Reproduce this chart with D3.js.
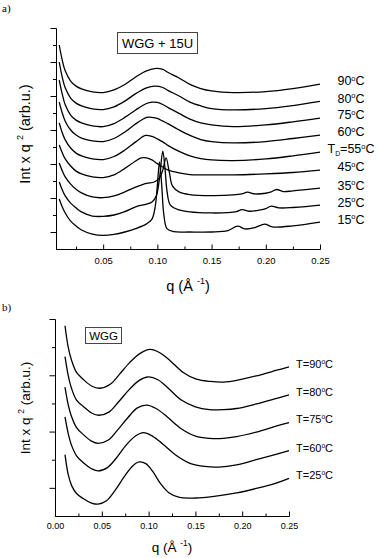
<!DOCTYPE html>
<html>
<head>
<meta charset="utf-8">
<script src="https://cdn.jsdelivr.net/npm/d3@7"></script>
<style>
  body { margin: 0; background: #fff; }
  svg { display: block; }
  text { font-family: "Liberation Sans", Arial, sans-serif; fill: #000; }
</style>
</head>
<body>
<script>
'use strict'

// ---- panel a) WGG + 15U : [q, Int*q^2 (arb.u., curves stacked)] ----
const tempsA = [90, 80, 75, 60, 55, 45, 35, 25, 15]
const a90 = [[0.0095, 5.50], [0.012, 5.09], [0.015, 4.74], [0.02, 4.44], [0.025, 4.29], [0.03, 4.21], [0.04, 4.12], [0.05, 4.10], [0.06, 4.18], [0.07, 4.34], [0.08, 4.56], [0.09, 4.74], [0.099, 4.81], [0.105, 4.78], [0.11, 4.69], [0.12, 4.53], [0.13, 4.34], [0.14, 4.22], [0.15, 4.15], [0.17, 4.10], [0.2, 4.13], [0.225, 4.22], [0.25, 4.35]]
const a80 = [[0.0095, 5.00], [0.012, 4.59], [0.015, 4.24], [0.02, 3.94], [0.025, 3.79], [0.03, 3.71], [0.04, 3.62], [0.05, 3.60], [0.06, 3.68], [0.07, 3.85], [0.08, 4.07], [0.09, 4.24], [0.0975, 4.29], [0.105, 4.25], [0.11, 4.16], [0.12, 4.00], [0.13, 3.82], [0.14, 3.71], [0.15, 3.63], [0.17, 3.59], [0.2, 3.63], [0.225, 3.72], [0.25, 3.84]]
const a75 = [[0.0095, 4.47], [0.012, 4.09], [0.015, 3.74], [0.02, 3.44], [0.025, 3.29], [0.03, 3.21], [0.04, 3.12], [0.05, 3.10], [0.06, 3.19], [0.07, 3.37], [0.08, 3.59], [0.09, 3.78], [0.095, 3.82], [0.1, 3.81], [0.105, 3.75], [0.11, 3.66], [0.12, 3.49], [0.13, 3.32], [0.14, 3.21], [0.15, 3.15], [0.17, 3.10], [0.2, 3.15], [0.225, 3.24], [0.25, 3.35]]
const a60 = [[0.0095, 3.82], [0.012, 3.53], [0.015, 3.26], [0.02, 3.00], [0.025, 2.85], [0.03, 2.76], [0.04, 2.68], [0.05, 2.66], [0.06, 2.75], [0.07, 2.94], [0.08, 3.18], [0.09, 3.37], [0.093, 3.38], [0.1, 3.34], [0.105, 3.26], [0.11, 3.18], [0.12, 3.00], [0.13, 2.84], [0.14, 2.72], [0.15, 2.66], [0.17, 2.62], [0.2, 2.66], [0.225, 2.75], [0.25, 2.85]]
const a55 = [[0.0095, 3.21], [0.012, 2.94], [0.015, 2.71], [0.02, 2.47], [0.025, 2.32], [0.03, 2.24], [0.04, 2.15], [0.05, 2.13], [0.06, 2.22], [0.07, 2.41], [0.08, 2.65], [0.089, 2.84], [0.095, 2.81], [0.1, 2.74], [0.105, 2.65], [0.11, 2.54], [0.12, 2.37], [0.13, 2.24], [0.14, 2.16], [0.15, 2.12], [0.17, 2.10], [0.2, 2.15], [0.225, 2.24], [0.25, 2.35]]
const a45 = [[0.0095, 2.56], [0.012, 2.35], [0.015, 2.15], [0.02, 1.94], [0.025, 1.79], [0.03, 1.71], [0.04, 1.62], [0.05, 1.60], [0.06, 1.68], [0.07, 1.87], [0.08, 2.09], [0.085, 2.18], [0.09, 2.18], [0.095, 2.12], [0.1, 2.01], [0.105, 1.91], [0.11, 1.82], [0.12, 1.74], [0.13, 1.69], [0.14, 1.68], [0.15, 1.68], [0.17, 1.68], [0.2, 1.71], [0.225, 1.75], [0.25, 1.82]]
const a35 = [[0.0095, 2.03], [0.012, 1.82], [0.015, 1.62], [0.02, 1.41], [0.025, 1.26], [0.03, 1.15], [0.04, 1.03], [0.05, 1.01], [0.06, 1.06], [0.07, 1.18], [0.08, 1.32], [0.09, 1.43], [0.097, 1.47], [0.102, 1.59], [0.105, 1.82], [0.108, 2.18], [0.111, 1.76], [0.114, 1.35], [0.12, 1.18], [0.13, 1.10], [0.15, 1.07], [0.17, 1.09], [0.178, 1.12], [0.183, 1.17], [0.19, 1.12], [0.2, 1.14], [0.205, 1.18], [0.21, 1.25], [0.216, 1.19], [0.225, 1.21], [0.25, 1.29]]
const a25 = [[0.0095, 1.47], [0.012, 1.26], [0.015, 1.06], [0.02, 0.85], [0.025, 0.71], [0.03, 0.59], [0.04, 0.47], [0.05, 0.46], [0.06, 0.50], [0.07, 0.60], [0.08, 0.74], [0.09, 0.82], [0.095, 0.88], [0.099, 1.06], [0.102, 1.59], [0.105, 2.38], [0.107, 1.88], [0.109, 1.18], [0.112, 0.79], [0.12, 0.65], [0.13, 0.59], [0.15, 0.56], [0.165, 0.57], [0.173, 0.60], [0.178, 0.66], [0.185, 0.61], [0.195, 0.65], [0.2, 0.69], [0.205, 0.76], [0.212, 0.71], [0.225, 0.72], [0.25, 0.79]]
const a15 = [[0.0095, 0.97], [0.012, 0.76], [0.015, 0.56], [0.02, 0.32], [0.025, 0.18], [0.03, 0.06], [0.04, -0.06], [0.05, -0.10], [0.06, -0.07], [0.07, 0.00], [0.08, 0.10], [0.09, 0.24], [0.095, 0.38], [0.098, 0.74], [0.1, 1.38], [0.102, 2.06], [0.104, 1.38], [0.106, 0.50], [0.109, 0.09], [0.115, 0.01], [0.13, 0.00], [0.15, 0.00], [0.165, 0.04], [0.174, 0.17], [0.181, 0.09], [0.19, 0.13], [0.199, 0.23], [0.206, 0.15], [0.225, 0.18], [0.25, 0.29]]
const curvesA = [a90, a80, a75, a60, a55, a45, a35, a25, a15]
const tdTemp = 55

// ---- panel b) WGG ----
const tempsB = [90, 80, 75, 60, 25]
const b90 = [[0.0107, 2.88], [0.0142, 2.49], [0.0178, 2.26], [0.023, 2.05], [0.03, 1.93], [0.039, 1.81], [0.048, 1.77], [0.059, 1.84], [0.069, 2.02], [0.08, 2.23], [0.091, 2.39], [0.1015, 2.46], [0.112, 2.40], [0.123, 2.26], [0.137, 2.05], [0.151, 1.93], [0.166, 1.89], [0.18, 1.88], [0.194, 1.91], [0.215, 1.99], [0.237, 2.09], [0.25, 2.15]]
const b80 = [[0.0107, 2.33], [0.0142, 1.99], [0.0178, 1.76], [0.023, 1.56], [0.03, 1.45], [0.039, 1.33], [0.047, 1.29], [0.058, 1.35], [0.068, 1.53], [0.079, 1.74], [0.09, 1.91], [0.0997, 1.97], [0.11, 1.92], [0.121, 1.77], [0.135, 1.56], [0.15, 1.44], [0.165, 1.39], [0.18, 1.39], [0.194, 1.41], [0.215, 1.49], [0.237, 1.59], [0.25, 1.65]]
const b75 = [[0.0107, 1.79], [0.0142, 1.47], [0.0178, 1.26], [0.023, 1.07], [0.03, 0.95], [0.039, 0.83], [0.046, 0.79], [0.057, 0.85], [0.067, 1.03], [0.078, 1.25], [0.088, 1.42], [0.098, 1.47], [0.108, 1.41], [0.12, 1.26], [0.134, 1.06], [0.15, 0.92], [0.165, 0.88], [0.18, 0.88], [0.194, 0.91], [0.215, 0.99], [0.237, 1.10], [0.25, 1.16]]
const b60 = [[0.0107, 1.26], [0.0142, 0.96], [0.0178, 0.75], [0.023, 0.57], [0.03, 0.45], [0.039, 0.34], [0.046, 0.30], [0.056, 0.36], [0.066, 0.54], [0.076, 0.76], [0.086, 0.92], [0.0944, 0.98], [0.104, 0.92], [0.115, 0.78], [0.13, 0.57], [0.145, 0.43], [0.16, 0.38], [0.175, 0.37], [0.194, 0.41], [0.215, 0.50], [0.237, 0.60], [0.25, 0.66]]
const b25 = [[0.0107, 0.59], [0.0142, 0.23], [0.0178, 0.04], [0.023, -0.10], [0.03, -0.19], [0.039, -0.27], [0.046, -0.29], [0.055, -0.23], [0.064, -0.05], [0.074, 0.20], [0.083, 0.39], [0.09, 0.46], [0.097, 0.43], [0.104, 0.30], [0.113, 0.07], [0.122, -0.09], [0.133, -0.17], [0.15, -0.18], [0.17, -0.15], [0.194, -0.09], [0.215, -0.01], [0.237, 0.09], [0.25, 0.17]]
const curvesB = [b90, b80, b75, b60, b25]

// ticks
const xMajor = [0.05, 0.10, 0.15, 0.20, 0.25]
const xMajorB = [0, 0.05, 0.10, 0.15, 0.20, 0.25]
const xMinor = [0.025, 0.075, 0.125, 0.175, 0.225]
const yMajorA = [0, 1, 2, 3, 4, 5, 6]
const yMinorA = [0.5, 1.5, 2.5, 3.5, 4.5, 5.5]
const yMajorB = [0, 1, 2, 3]
const yMinorB = [0.5, 1.5, 2.5]

const W = 378, H = 558
const svg = d3.select('body').append('svg').attr('width', W).attr('height', H)

const xA = d3.scaleLinear().domain([0.0065, 0.25]).range([56, 320])
const yA = d3.scaleLinear().domain([-0.5, 6]).range([249, 28])
const xB = d3.scaleLinear().domain([0, 0.25]).range([55, 289])
const yB = d3.scaleLinear().domain([-0.5, 3]).range([516, 319])

function axes (x, y, o) {
  const y0 = y.range()[0]
  const x0 = x.range()[0]
  const g = svg.append('g')
  g.append('g').attr('transform', `translate(0,${y0})`)
    .call(d3.axisBottom(x).tickValues(xMinor).tickSize(-2.5).tickSizeOuter(0).tickFormat(''))
  g.append('g').attr('transform', `translate(0,${y0})`)
    .call(d3.axisBottom(x).tickValues(o.xMajor).tickSize(-4.5).tickSizeOuter(0)
      .tickPadding(o.pad).tickFormat(d3.format('.2f')))
    .attr('font-family', null).attr('font-size', o.tickFont)
  g.append('g').attr('transform', `translate(${x0},0)`)
    .call(d3.axisLeft(y).tickValues(o.yMinor).tickSize(3).tickSizeOuter(0).tickFormat(''))
  g.append('g').attr('transform', `translate(${x0},0)`)
    .call(d3.axisLeft(y).tickValues(o.yMajor).tickSize(5.5).tickSizeOuter(0).tickFormat(''))
  g.selectAll('.domain, .tick line').attr('stroke', '#000').attr('stroke-width', 1)

  // y title
  const yt = svg.append('text')
    .attr('transform', `translate(${o.yTitle[0]},${o.yTitle[1]}) rotate(-90)`)
    .attr('text-anchor', 'middle').attr('font-size', o.titleFont)
  yt.append('tspan').text('Int x q ')
  yt.append('tspan').attr('font-size', '0.62em').attr('dy', '-0.75em').text('2')
  yt.append('tspan').attr('dy', '0.47em').text(' (arb.u.)')

  // x title
  const xt = svg.append('text')
    .attr('x', (x.range()[0] + x.range()[1]) / 2).attr('y', o.xTitleY)
    .attr('text-anchor', 'middle').attr('font-size', o.titleFont)
  xt.append('tspan').text('q (Å ')
  xt.append('tspan').attr('font-size', '0.62em').attr('dy', '-0.75em').text('-1')
  xt.append('tspan').attr('dy', '0.47em').text(')')
}

const line = (x, y) => d3.line().x(d => x(d[0])).y(d => y(d[1])).curve(d3.curveCatmullRom.alpha(0.5))

function degree (t, prefix) {
  prefix(t)
  t.append('tspan').attr('font-size', '0.6em').attr('dy', '-0.6em').text('o')
  t.append('tspan').attr('dy', '0.36em').text('C')
}

// ---------- panel a ----------
axes(xA, yA, { xMajor, pad: 8.5, tickFont: 9.5, yMajor: yMajorA, yMinor: yMinorA, titleFont: 14.5, yTitle: [30, 134], xTitleY: 291 })

svg.append('g').selectAll('path').data(curvesA).join('path')
  .attr('fill', 'none').attr('stroke', '#000').attr('stroke-width', 1.3)
  .attr('d', line(xA, yA))

svg.append('g').selectAll('text').data(tempsA).join('text')
  .attr('x', xA(0.25) + 31)
  .attr('y', (d, i) => yA(curvesA[i][curvesA[i].length - 1][1]) - 3)
  .attr('dy', '0.35em').attr('text-anchor', 'middle').attr('font-size', 12.5)
  .each(function (d) {
    degree(d3.select(this), t => {
      if (d === tdTemp) {
        t.append('tspan').text('T')
        t.append('tspan').attr('font-size', '0.55em').attr('dy', '0.4em').text('D')
        t.append('tspan').attr('dy', '-0.22em').text('=' + d)
      } else {
        t.append('tspan').text(d)
      }
    })
  })

svg.append('rect').attr('x', 117.5).attr('y', 32.5).attr('width', 80).attr('height', 21)
  .attr('fill', '#fff').attr('stroke', '#444').attr('stroke-width', 1)
svg.append('text').attr('x', 157.5).attr('y', 47.5).attr('text-anchor', 'middle')
  .attr('font-size', 13).text('WGG + 15U')

svg.append('text').attr('x', 2).attr('y', 12).attr('font-size', 11)
  .style('font-family', '"Liberation Serif", "DejaVu Serif", serif').text('a)')

// ---------- panel b ----------
axes(xB, yB, { xMajor: xMajorB, pad: 7, tickFont: 9, yMajor: yMajorB, yMinor: yMinorB, titleFont: 13.5, yTitle: [30, 408], xTitleY: 552 })

svg.append('g').selectAll('path').data(curvesB).join('path')
  .attr('fill', 'none').attr('stroke', '#000').attr('stroke-width', 1.3)
  .attr('d', line(xB, yB))

svg.append('g').selectAll('text').data(tempsB).join('text')
  .attr('x', xB(0.25) + 7)
  .attr('y', (d, i) => yB(curvesB[i][curvesB[i].length - 1][1]) - 3)
  .attr('dy', '0.35em').attr('font-size', 11)
  .each(function (d) {
    degree(d3.select(this), t => t.append('tspan').text('T=' + d))
  })

svg.append('rect').attr('x', 85.5).attr('y', 327.5).attr('width', 36).attr('height', 16)
  .attr('fill', '#fff').attr('stroke', '#444').attr('stroke-width', 1)
svg.append('text').attr('x', 103.5).attr('y', 339.5).attr('text-anchor', 'middle')
  .attr('font-size', 11.5).text('WGG')

svg.append('text').attr('x', 2).attr('y', 311).attr('font-size', 11)
  .style('font-family', '"Liberation Serif", "DejaVu Serif", serif').text('b)')
</script>
</body>
</html>
